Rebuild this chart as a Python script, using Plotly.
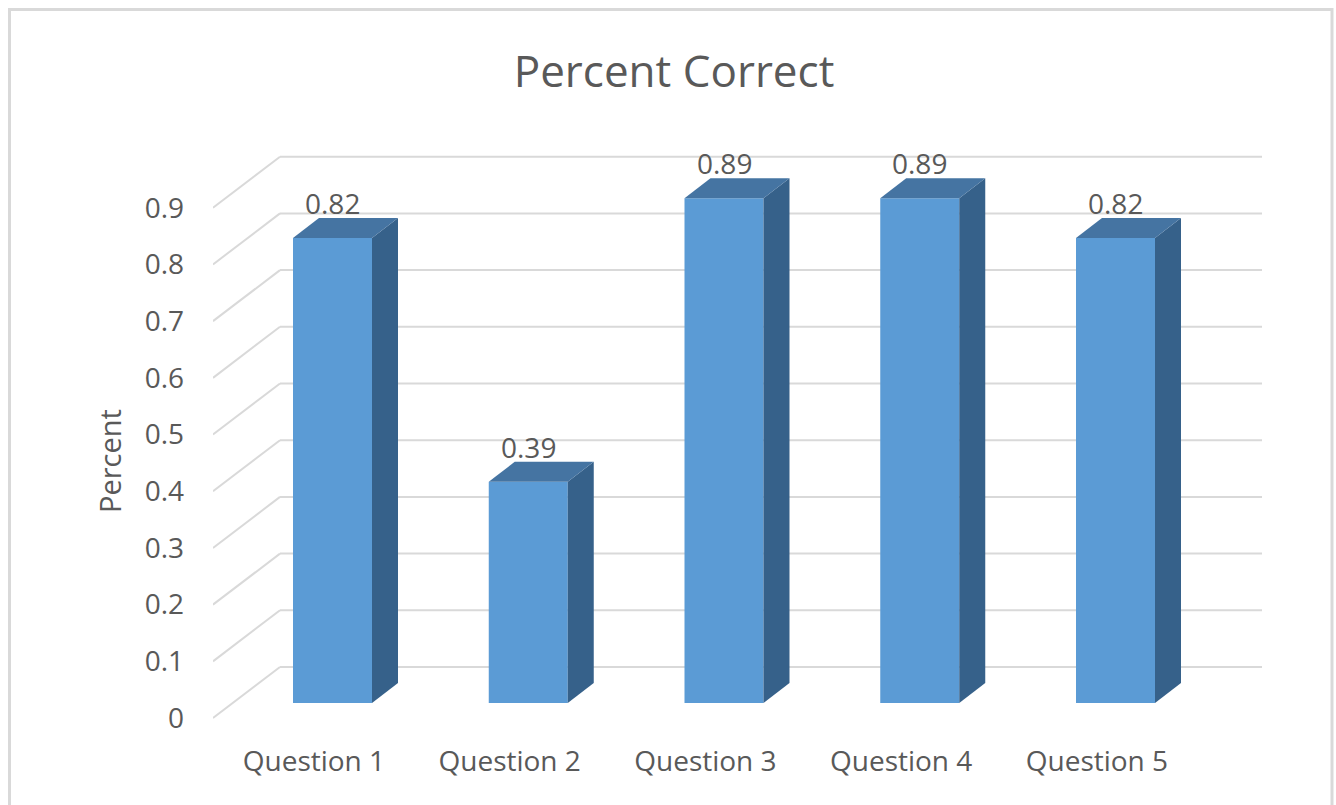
import plotly.graph_objects as go

# ---- data ----
categories = ["Question 1", "Question 2", "Question 3", "Question 4", "Question 5"]
values = [0.82, 0.39, 0.89, 0.89, 0.82]
y_tick_values = [0, 0.1, 0.2, 0.3, 0.4, 0.5, 0.6, 0.7, 0.8, 0.9]
y_tick_labels = ["0", "0.1", "0.2", "0.3", "0.4", "0.5", "0.6", "0.7", "0.8", "0.9"]
title_text = "Percent Correct"
y_title = "Percent"

# ---- styling / pseudo-3D geometry (axis units) ----
FONT = "Open Sans"
TXT = "#595959"
GRID = "#d9d9d9"
FRONT_C = "#5B9BD5"
TOP_C = "#4574A2"
SIDE_C = "#36618A"

BAR_W = 0.4036
SIDE_DX, SIDE_DY = 0.1328, 0.0353       # depth of each column
FRONT_DX, FRONT_DY = -0.095, -0.0265     # front plane relative to column front
BACK_DY = 0.0635                         # back wall relative to column front
X_FRONT_LEFT, X_BACK_LEFT, X_BACK_RIGHT = -0.6105, -0.2682, 4.7484

W, H = 1336, 805
ML, MR, MT, MB = 213, 74, 150, 85
PW, PH = W - ML - MR, H - MT - MB

def px_x(p):
    return (p - ML) / PW

def px_y(p):
    return (H - MB - p) / PH

fig = go.Figure()

# front faces
xs_idx = list(range(len(categories)))
fig.add_trace(go.Bar(x=xs_idx, y=values, width=BAR_W,
                     marker=dict(color=FRONT_C, line=dict(width=0)),
                     hoverinfo="skip"))

hw = BAR_W / 2
for i, v in zip(xs_idx, values):
    # side face
    fig.add_trace(go.Scatter(
        x=[i + hw, i + hw + SIDE_DX, i + hw + SIDE_DX, i + hw, i + hw],
        y=[0, SIDE_DY, v + SIDE_DY, v, 0],
        fill="toself", fillcolor=SIDE_C, mode="lines",
        line=dict(width=0, color=SIDE_C), hoverinfo="skip"))
    # top face
    fig.add_trace(go.Scatter(
        x=[i - hw, i + hw, i + hw + SIDE_DX, i - hw + SIDE_DX, i - hw],
        y=[v, v, v + SIDE_DY, v + SIDE_DY, v],
        fill="toself", fillcolor=TOP_C, mode="lines",
        line=dict(width=0, color=TOP_C), hoverinfo="skip"))
    fig.add_annotation(x=i, y=v, text=f"{v:.2f}", showarrow=False,
                       yshift=35, yanchor="middle", xanchor="center",
                       font=dict(family=FONT, size=28, color=TXT))

# gridlines: diagonal on side wall + horizontal on back wall
shapes = []
for t in y_tick_values:
    shapes.append(dict(type="line", xref="x", yref="y", layer="below",
                       x0=X_FRONT_LEFT, y0=t + FRONT_DY, x1=X_BACK_LEFT, y1=t + BACK_DY,
                       line=dict(color=GRID, width=2)))
    shapes.append(dict(type="line", xref="x", yref="y", layer="below",
                       x0=X_BACK_LEFT, y0=t + BACK_DY, x1=X_BACK_RIGHT, y1=t + BACK_DY,
                       line=dict(color=GRID, width=2)))
# outer chart border
shapes.append(dict(type="rect", xref="paper", yref="paper",
                   x0=px_x(9.5), x1=px_x(1332), y0=px_y(812), y1=px_y(9.5),
                   line=dict(color=GRID, width=3)))

fig.add_annotation(xref="paper", yref="paper", x=px_x(110), y=px_y(461),
                   text=y_title, textangle=-90, showarrow=False,
                   xanchor="center", yanchor="middle",
                   font=dict(family=FONT, size=29, color=TXT))

fig.update_layout(
    width=W, height=H,
    margin=dict(l=ML, r=MR, t=MT, b=MB, pad=0),
    paper_bgcolor="white", plot_bgcolor="white",
    showlegend=False,
    shapes=shapes,
    font=dict(family=FONT, color=TXT),
    title=dict(text=title_text, x=674 / W, xanchor="center",
               y=1 - 72 / H, yanchor="middle", yref="container",
               font=dict(family=FONT, size=44, color=TXT)),
    xaxis=dict(range=[(ML - 332.5) / 195.75, (W - MR - 332.5) / 195.75],
               tickvals=[i + FRONT_DX for i in xs_idx], ticktext=categories,
               showgrid=False, zeroline=False, showline=False, ticks="",
               tickfont=dict(family=FONT, size=28, color=TXT),
               ticklabelstandoff=22),
    yaxis=dict(range=[(703 - (H - MB)) / 567, (703 - MT) / 567],
               tickvals=[t + FRONT_DY for t in y_tick_values], ticktext=y_tick_labels,
               showgrid=False, zeroline=False, showline=False, ticks="",
               tickfont=dict(family=FONT, size=28, color=TXT),
               ticklabelstandoff=28),
)

fig.write_html("out.html",
               config={"displayModeBar": False},
               post_script="document.body.style.margin='0';document.body.style.overflow='hidden';")
